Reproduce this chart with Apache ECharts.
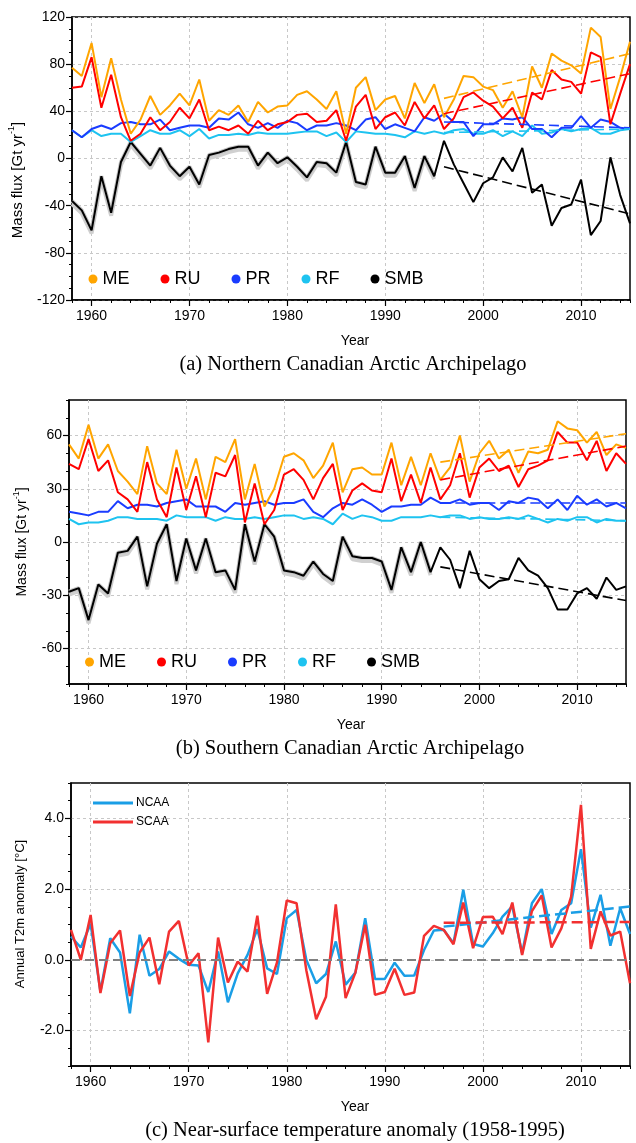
<!DOCTYPE html>
<html><head><meta charset="utf-8">
<script src="https://cdn.jsdelivr.net/npm/echarts@6/dist/echarts.min.js"></script>
<style>html,body{margin:0;padding:0;background:#fff}#c{width:636px;height:1143px}</style>
</head><body><div id="c"></div>
<script>
// ---------- data ----------
const years = [1958,1959,1960,1961,1962,1963,1964,1965,1966,1967,1968,1969,1970,1971,1972,1973,1974,1975,1976,1977,1978,1979,1980,1981,1982,1983,1984,1985,1986,1987,1988,1989,1990,1991,1992,1993,1994,1995,1996,1997,1998,1999,2000,2001,2002,2003,2004,2005,2006,2007,2008,2009,2010,2011,2012,2013,2014,2015];
const decadeTicks = [1960,1970,1980,1990,2000,2010];
const trendYears = [1996, 2015];
const yTicksA = [-120,-80,-40,0,40,80,120];
const yTicksB = [-60,-30,0,30,60];
const yTicksC = [-2,0,2,4];
const massNames = ['ME','RU','PR','RF','SMB'];
const tempNames = ['NCAA','SCAA'];

// (a) Northern CAA
const aME  = [77,70,98,52,85,50,21,33,53,37,45,55,45,67,32,41,37,45,31,48,39,44,45,54,57,50,42,57,21,60,69,41,50,53,34,64,47,63,35,50,70,69,61,58,43,57,35,78,60,89,83,79,72,111,103,42,69,99];
const aRU  = [60,61,86,43,71,35,15,21,35,24,31,43,34,50,24,27,24,28,21,32,24,29,31,37,38,31,32,41,15,44,54,25,35,39,28,48,34,45,25,34,52,56,49,44,34,43,26,56,50,75,67,65,55,90,86,29,55,80];
const aPR  = [24,18,25,28,25,30,31,29,29,33,24,26,28,28,26,34,33,39,29,26,30,26,32,30,24,28,28,30,28,24,33,35,25,29,26,23,35,32,38,31,31,19,29,29,34,33,35,25,25,18,26,26,36,26,33,31,26,25];
const aRF  = [24,18,24,19,21,21,14,19,24,21,21,24,19,25,17,20,20,21,20,22,21,21,21,22,23,23,19,22,14,23,22,21,21,20,18,23,21,23,21,24,25,21,21,24,19,23,19,28,21,22,25,23,25,26,21,21,24,25];
const aSMB = [-36,-44,-61,-15,-46,-3,14,4,-6,9,-6,-15,-7,-22,3,5,8,10,10,-6,5,-4,1,-7,-16,-3,-4,-12,14,-20,-22,10,-12,-12,2,-25,2,-15,15,-5,-21,-37,-21,-16,1,-11,9,-29,-22,-57,-42,-39,-18,-65,-53,1,-31,-55];
// trend (1996, 2015) in order ME, RU, PR, RF, SMB
const aTrend = [[51,89],[38,72],[31,26],[22,25],[-7,-47]];

// (b) Southern CAA
const bME  = [55,47,66,47,55,40,34,27,54,33,27,52,30,47,24,48,45,58,24,44,20,30,48,50,46,36,43,56,28,41,42,38,38,56,32,48,32,50,35,42,60,34,50,57,47,52,39,51,50,52,68,64,63,56,62,49,55,53];
const bRU  = [44,41,58,40,46,28,24,17,45,24,14,42,18,37,14,39,37,49,11,33,10,18,38,41,35,24,36,44,18,29,33,29,28,47,23,38,22,42,24,32,50,25,42,47,40,43,31,41,43,46,62,56,56,46,57,40,50,44];
const bPR  = [17,16,15,17,17,23,19,21,21,20,22,23,24,20,20,20,17,22,21,22,23,21,22,22,24,17,14,19,22,21,24,21,17,20,20,21,21,25,22,22,24,21,22,22,18,23,22,25,24,19,24,18,26,21,24,20,22,19];
const bRF  = [13,10,11,11,12,14,14,13,13,13,12,15,14,14,14,12,14,13,13,14,13,14,15,15,13,14,13,10,16,13,15,14,12,12,14,14,14,15,14,15,15,13,14,13,13,14,13,15,13,11,13,12,14,14,11,13,12,12];
const bSMB = [-28,-26,-44,-24,-29,-6,-5,3,-25,-1,10,-22,2,-16,2,-17,-16,-27,10,-11,10,3,-16,-17,-19,-11,-18,-22,3,-8,-9,-9,-11,-27,-3,-17,0,-17,-3,-10,-26,-5,-21,-26,-22,-21,-9,-16,-19,-26,-38,-38,-29,-26,-32,-20,-27,-25];
const bTrend = [[45,61],[35,54],[22,22],[14,12],[-14,-33]];

// (c) temperature anomaly
const cNCAA = [0.66,0.35,1.02,-0.89,0.61,0.21,-1.51,0.71,-0.45,-0.26,0.24,0.03,-0.14,-0.16,-0.91,0.24,-1.2,-0.38,0.14,0.87,-0.24,-0.40,1.18,1.41,0,-0.66,-0.40,0.52,-0.70,-0.36,1.18,-0.54,-0.54,-0.08,-0.45,-0.44,0.28,0.83,0.85,0.47,1.98,0.45,0.38,0.75,1.22,1.51,0.19,1.6,2.0,0.73,1.41,1.6,3.13,0.91,1.84,0.4,1.46,0.73];
const cSCAA = [0.85,0.0,1.27,-0.94,0.47,0.83,-1.02,0.21,0.63,-0.69,0.8,1.1,-0.16,0.19,-2.33,0.63,-0.64,-0.05,-0.33,1.25,-0.96,-0.08,1.68,1.6,-0.3,-1.68,-1.04,1.57,-1.08,-0.36,0.99,-0.99,-0.91,-0.25,-0.99,-0.92,0.68,0.96,0.85,0.44,1.62,0.33,1.21,1.22,0.73,1.62,0.14,1.38,1.82,0.35,0.89,1.79,4.38,0.31,1.37,0.69,0.8,-0.66];
const cTrend = [[0.94,1.51],[1.05,1.07]];

// ---------- style ----------
const SANS = '"Liberation Sans", Arial, sans-serif';
const SERIF = '"Liberation Serif", "Times New Roman", serif';
const massColors = ['#ffa500','#ff0000','#1a3cff','#1ec3f0','#000000'];
const tempColors = ['#1a9ee6','#f23030'];
const GRID_COLOR = '#c8c8c8';

const grids = [
  {left:72, top:17, width:558, height:283},
  {left:69, top:400, width:557, height:284},
  {left:71, top:783, width:559, height:283}
].map(g => Object.assign(g, {show:true, borderColor:'#000', borderWidth:1.5, backgroundColor:'transparent'}));

function xMajor(g){
  return {type:'value', gridIndex:g, min:1958, max:2015, position:'bottom',
    axisLine:{show:true, onZero:false, lineStyle:{color:'#000', width:1.5}},
    axisTick:{show:true, customValues:decadeTicks, length:6, lineStyle:{color:'#000', width:1.2}},
    axisLabel:{show:true, customValues:decadeTicks, fontSize:14, color:'#000', fontFamily:SANS, margin:9, formatter:v=>String(v)},
    splitLine:{show:true, lineStyle:{color:GRID_COLOR, type:[3,3], width:1}}};
}
function xMinor(g){
  return {type:'value', gridIndex:g, min:1958, max:2015, interval:2, position:'bottom',
    axisLine:{show:false, onZero:false},
    axisTick:{show:true, length:3, lineStyle:{color:'#000', width:1}},
    axisLabel:{show:false}, splitLine:{show:false}};
}
function yMajor(g, min, max, ticks, fmt){
  return {type:'value', gridIndex:g, min:min, max:max, position:'left',
    axisLine:{show:true, onZero:false, lineStyle:{color:'#000', width:1.5}},
    axisTick:{show:true, customValues:ticks, length:6, lineStyle:{color:'#000', width:1.2}},
    axisLabel:{show:true, customValues:ticks, fontSize:14, color:'#000', fontFamily:SANS, margin:7, formatter:fmt},
    splitLine:{show:true, lineStyle:{color:GRID_COLOR, type:[3,3], width:1}}};
}
function yMinor(g, min, max, interval){
  return {type:'value', gridIndex:g, min:min, max:max, interval:interval, position:'left',
    axisLine:{show:false, onZero:false},
    axisTick:{show:true, length:3, lineStyle:{color:'#000', width:1}},
    axisLabel:{show:false}, splitLine:{show:false}};
}

const xAxes = [xMajor(0), xMinor(0), xMajor(1), xMinor(1), xMajor(2), xMinor(2)];
const yAxes = [
  yMajor(0, -120, 120, yTicksA, v=>String(v)), yMinor(0, -120, 120, 10),
  yMajor(1, -80, 80, yTicksB, v=>String(v)), yMinor(1, -80, 80, 10),
  yMajor(2, -3, 5, yTicksC, v=>v.toFixed(1)), yMinor(2, -3, 5, 0.5)
];

function pairs(xs, vs){ return xs.map((x,i)=>[x, vs[i]]); }

const series = [];
function massPanel(p, arrays, trends){
  const ax = p*2;
  // grey uncertainty shading under SMB (early period)
  series.push({type:'line', name:'SMB band '+p, xAxisIndex:ax, yAxisIndex:ax,
    data: pairs(years.slice(0,38), arrays[4].slice(0,38)), symbol:'none', silent:true, z:1,
    lineStyle:{color:'#c4c4c4', width:4, shadowColor:'#d0d0d0', shadowOffsetY:3, shadowBlur:0}});
  const order = [4,3,2,1,0];
  order.forEach(k=>{
    series.push({type:'line', name:massNames[k], xAxisIndex:ax, yAxisIndex:ax,
      data: pairs(years, arrays[k]), symbol:'none', showSymbol:false, z:3,
      lineStyle:{color:massColors[k], width:2}, itemStyle:{color:massColors[k]}});
  });
  trends.forEach((t,k)=>{
    series.push({type:'line', name:massNames[k]+' trend '+p, xAxisIndex:ax, yAxisIndex:ax,
      data: pairs(trendYears, t), symbol:'none', z:5, silent:true,
      lineStyle:{color:massColors[k], width:1.6, type:[10,5]}, itemStyle:{color:massColors[k]}});
  });
}
massPanel(0, [aME,aRU,aPR,aRF,aSMB], aTrend);
massPanel(1, [bME,bRU,bPR,bRF,bSMB], bTrend);

// panel c
[cNCAA, cSCAA].forEach((arr,k)=>{
  series.push({type:'line', name:tempNames[k], xAxisIndex:4, yAxisIndex:4,
    data: pairs(years, arr), symbol:'none', showSymbol:false, z:3,
    lineStyle:{color:tempColors[k], width:2.5}, itemStyle:{color:tempColors[k]}});
});
cTrend.forEach((t,k)=>{
  const s = {type:'line', name:tempNames[k]+' trend', xAxisIndex:4, yAxisIndex:4,
    data: pairs(trendYears, t), symbol:'none', z:4, silent:true,
    lineStyle:{color:tempColors[k], width:2.5, type:[11,5]}, itemStyle:{color:tempColors[k]}};
  if (k===0) {
    s.markLine = {silent:true, symbol:'none', label:{show:false}, animation:false,
      lineStyle:{color:'#808080', type:[9,5], width:2}, data:[{yAxis:0}]};
  }
  series.push(s);
});

const legendMass = (left, top) => ({data:massNames, left:left, top:top, orient:'horizontal', padding:0,
  icon:'circle', itemWidth:9, itemHeight:9, itemGap:31, selectedMode:false,
  textStyle:{fontSize:18, fontFamily:SANS, color:'#000'}});

function vtext(x, y, text, size, rich){
  return {type:'text', x:x, y:y, rotation:Math.PI/2, silent:true,
    style:{text:text, fontSize:size, fontFamily:SANS, fill:'#000', align:'center', verticalAlign:'middle', lineHeight:size+6, rich:rich}};
}
function htext(x, y, text, size, fam){
  return {type:'text', x:x, y:y, silent:true,
    style:{text:text, fontSize:size, fontFamily:fam, fill:'#000', align:'center', verticalAlign:'middle'}};
}
const supRich = s => ({sup:{fontSize:Math.round(s*0.62), fontFamily:SANS, verticalAlign:'top', fill:'#000'}});

const graphics = [
  vtext(18, 180, 'Mass flux [Gt yr{sup|-1}]', 15, supRich(15)),
  vtext(22, 542, 'Mass flux [Gt yr{sup|-1}]', 14, supRich(14)),
  vtext(20, 914, 'Annual T2m anomaly [°C]', 13, {}),
  htext(355, 341, 'Year', 14, SANS),
  htext(351, 725, 'Year', 14, SANS),
  htext(355, 1107, 'Year', 14, SANS),
  htext(353, 365, '(a) Northern Canadian Arctic Archipelago', 20.5, SERIF),
  htext(350, 749, '(b) Southern Canadian Arctic Archipelago', 20.5, SERIF),
  htext(355, 1131, '(c) Near-surface temperature anomaly (1958-1995)', 20.5, SERIF)
];

const chart = echarts.init(document.getElementById('c'), null, {renderer:'canvas', width:636, height:1143});
chart.setOption({
  animation:false,
  backgroundColor:'#fff',
  grid: grids,
  xAxis: xAxes,
  yAxis: yAxes,
  legend: [
    legendMass(88.5, 270),
    legendMass(85, 653),
    {data:tempNames, left:93, top:797, orient:'vertical', padding:0, icon:'rect', itemWidth:40, itemHeight:3, itemGap:7,
     selectedMode:false, textStyle:{fontSize:12, fontFamily:SANS, color:'#000', padding:[0,0,0,-2]}}
  ],
  series: series,
  graphic: graphics
});
</script>
</body></html>
